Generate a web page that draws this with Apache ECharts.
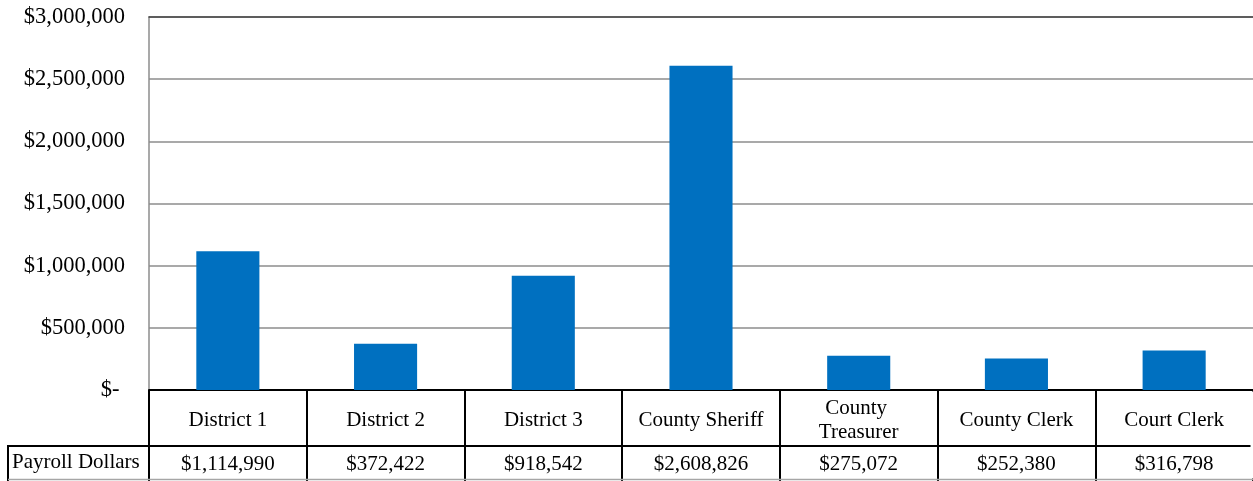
<!DOCTYPE html>
<html>
<head>
<meta charset="utf-8">
<script src="https://cdn.jsdelivr.net/npm/echarts@6/dist/echarts.min.js"></script>
<style>
html,body{margin:0;padding:0;background:#fff;}
#chart{width:1253px;height:481px;}
</style>
</head>
<body>
<div id="chart"></div>
<script>
const categories = ['District 1', 'District 2', 'District 3', 'County Sheriff', 'County Treasurer', 'County Clerk', 'Court Clerk'];
const payroll = [1114990, 372422, 918542, 2608826, 275072, 252380, 316798];
const seriesName = 'Payroll Dollars';
const yTicks = { min: 0, max: 3000000, interval: 500000 };

const FONT = '"Liberation Serif", "Times New Roman", serif';
function money(v) {
  if (v === 0) return '$-\u00a0';
  return '$' + v.toLocaleString('en-US');
}

const chart = echarts.init(document.getElementById('chart'), null, { renderer: 'canvas' });
chart.setOption({
  animation: false,
  backgroundColor: '#ffffff',
  grid: { left: 149, right: 0, top: 17, bottom: 91, containLabel: false },
  xAxis: [
    {
      type: 'category',
      data: categories,
      position: 'bottom',
      axisLine: { show: true, lineStyle: { color: '#000', width: 2 } },
      axisTick: { show: true, interval: 0, alignWithLabel: false, length: 91, lineStyle: { color: '#000', width: 2 } },
      axisLabel: {
        interval: 0, margin: 30, verticalAlign: 'middle',
        fontFamily: FONT, fontSize: 21, color: '#000', lineHeight: 24,
        width: 140, overflow: 'break', align: 'center'
      },
      splitLine: { show: false }
    },
    {
      type: 'category',
      data: payroll.map(money),
      position: 'bottom',
      offset: 56,
      axisLine: { show: true, lineStyle: { color: '#000', width: 2 } },
      axisTick: { show: false },
      axisLabel: {
        interval: 0, margin: 18, verticalAlign: 'middle',
        fontFamily: FONT, fontSize: 21, color: '#000'
      },
      splitLine: { show: false }
    },
    {
      type: 'category',
      data: categories,
      position: 'top',
      axisLine: { show: true, lineStyle: { color: '#444', width: 1.5 } },
      axisTick: { show: false },
      axisLabel: { show: false }
    }
  ],
  yAxis: {
    type: 'value',
    min: yTicks.min, max: yTicks.max, interval: yTicks.interval,
    axisLine: { show: true, lineStyle: { color: '#8c8c8c', width: 1.5 } },
    axisTick: { show: false },
    axisLabel: {
      margin: 24, fontFamily: FONT, fontSize: 22.5, color: '#000',
      formatter: money
    },
    splitLine: { show: true, lineStyle: { color: '#8c8c8c', width: 1.5 } }
  },
  series: [{
    name: seriesName,
    type: 'bar',
    xAxisIndex: 0,
    data: payroll,
    barCategoryGap: '60%',
    itemStyle: { color: '#0070C0' }
  }],
  graphic: [
    {
      type: 'rect', silent: true, z: 100,
      shape: { x: 1250.5, y: 391.5, width: 3, height: 87 },
      style: { fill: '#ffffff' }
    },
    {
      type: 'line', silent: true, z: 101,
      shape: { x1: 8, y1: 479.5, x2: 1253, y2: 479.5 },
      style: { stroke: '#a6a6a6', lineWidth: 1.5 }
    },
    {
      type: 'polyline', silent: true,
      shape: { points: [[8, 481], [8, 446], [149, 446]] },
      style: { stroke: '#000', lineWidth: 2, fill: null }
    },
    {
      type: 'text', silent: true,
      left: 12, top: 452,
      style: { text: seriesName, font: '21px ' + FONT, fill: '#000' }
    }
  ]
});
</script>
</body>
</html>
